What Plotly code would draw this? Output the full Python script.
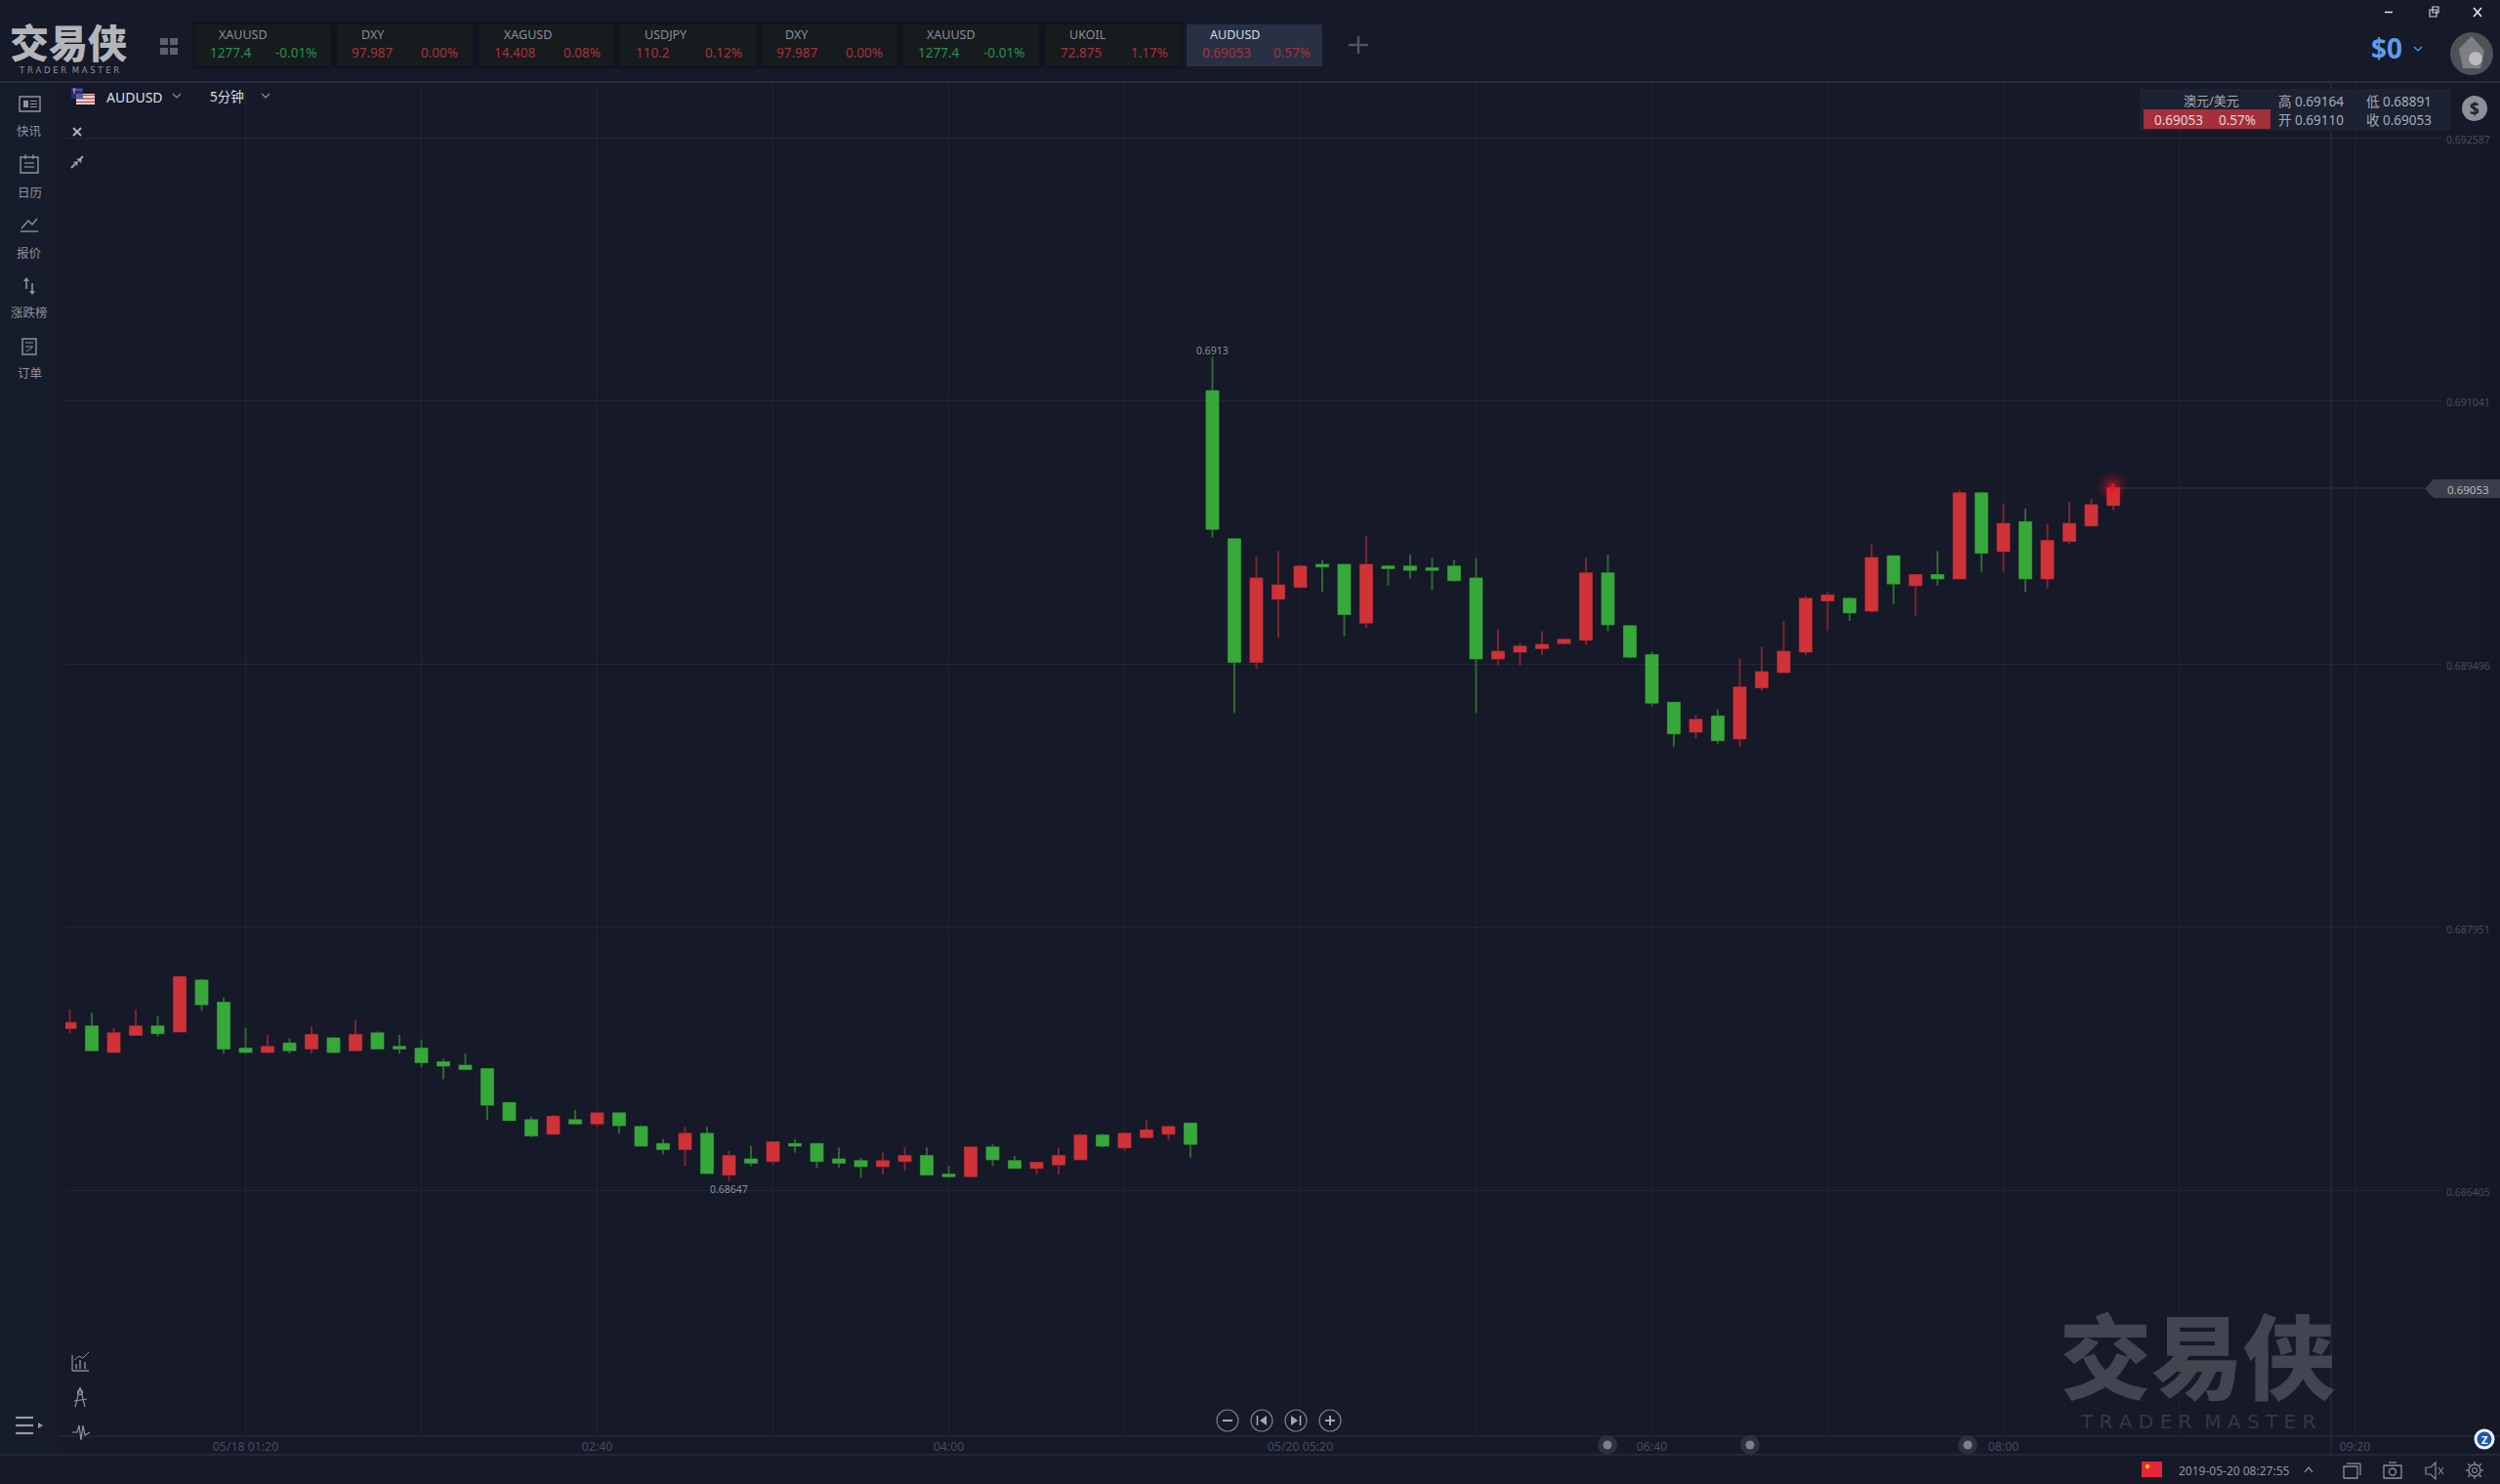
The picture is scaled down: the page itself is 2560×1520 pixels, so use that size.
import plotly.graph_objects as go

# ---------- data: AUDUSD 5-minute candles, in units of 0.00001 ----------
opens_pts = [68736,68737,68722,68732,68737,68734,68764,68751,68724,68722,68727,68724,68730,68723,68733,68725,
             68724,68716,68714,68712,68692,68682,68674,68682,68680,68686,68678,68668,68665,68674,68650,68659,
             68658,68668,68668,68659,68658,68655,68658,68661,68650,68649,68666,68658,68654,68656,68659,68673,
             68666,68672,68674,68680,69110,69023,68951,68988,68995,69008,69008,68974,69007,69007,69006,69007,
             69000,68953,68957,68959,68962,68964,69003,68972,68955,68927,68910,68919,68906,68936,68945,68957,
             68987,68988,68981,69013,68996,69002,69000,69050,69016,69033,69000,69022,69031,69043]
closes_pts = [68739,68723,68733,68737,68733,68766,68750,68724,68722,68725,68723,68732,68722,68732,68724,68724,
              68716,68714,68712,68691,68682,68673,68684,68680,68686,68679,68667,68665,68674,68651,68661,68657,
              68669,68667,68658,68657,68655,68658,68661,68650,68649,68666,68659,68654,68657,68661,68673,68667,
              68674,68676,68678,68668,69029,68951,69000,68996,69007,69007,68979,69008,69006,69005,69005,68999,
              68953,68957,68960,68961,68964,69003,68973,68954,68927,68909,68917,68905,68936,68945,68957,68988,
              68990,68980,69012,68997,69002,69000,69050,69015,69032,69000,69022,69032,69043,69053]
highs_pts = [68747,68745,68736,68747,68743,68766,68765,68754,68736,68732,68730,68737,68731,68741,68734,68732,
             68729,68718,68721,68712,68692,68684,68685,68688,68687,68686,68679,68671,68678,68678,68664,68667,
             68669,68671,68668,68666,68660,68663,68666,68666,68655,68666,68668,68661,68657,68666,68674,68674,
             68675,68682,68678,68680,69130,69023,69013,69016,69008,69011,69008,69025,69008,69014,69012,69011,
             69012,68970,68962,68969,68964,69012,69014,68972,68957,68927,68920,68923,68953,68960,68975,68990,
             68992,68989,69020,69013,69002,69016,69052,69051,69044,69041,69032,69045,69047,69056]
lows_pts = [68733,68723,68722,68732,68731,68734,68746,68721,68721,68721,68721,68721,68721,68723,68724,68721,
            68713,68706,68712,68682,68682,68672,68674,68680,68678,68674,68667,68662,68655,68650,68646,68655,
            68656,68663,68654,68654,68648,68650,68652,68650,68648,68648,68655,68654,68650,68650,68659,68666,
            68664,68672,68670,68660,69024,68921,68947,68965,68995,68992,68966,68971,68996,69000,68993,68998,
            68921,68949,68949,68955,68961,68961,68969,68953,68925,68901,68906,68903,68901,68934,68945,68955,
            68969,68975,68980,68985,68978,68996,69000,69004,69004,68992,68994,69020,69031,69040]

price_ticks = [0.692587, 0.691041, 0.689496, 0.687951, 0.686405]
price_labels = ["0.692587", "0.691041", "0.689496", "0.687951", "0.686405"]
time_tick_bars = [8, 16, 24, 32, 40, 48, 56, 64, 72, 80, 88, 96, 104]
time_tick_labels = ["05/18 01:20", "", "02:40", "", "04:00", "", "05/20 05:20", "", "06:40", "", "08:00", "", "09:20"]

watchlist_names = ["XAUUSD", "DXY", "XAGUSD", "USDJPY", "DXY", "XAUUSD", "UKOIL", "AUDUSD"]
watchlist_prices = ["1277.4", "97.987", "14.408", "110.2", "97.987", "1277.4", "72.875", "0.69053"]
watchlist_changes = ["-0.01%", "0.00%", "0.08%", "0.12%", "0.00%", "-0.01%", "1.17%", "0.57%"]

HIGH_BAR, HIGH_LABEL = 52, "0.6913"
LOW_BAR, LOW_LABEL = 30, "0.68647"
LAST_PRICE = "0.69053"

# ---------- styles / layout constants ----------
W, H = 2560, 1520
BG = "#151928"
GRID = "#212635"
VGRID = "#1e2331"
UP_FILL, UP_LINE = "#cf3237", "#7c2530"
DN_FILL, DN_LINE = "#37a93b", "#2a6a30"
CN = "Noto Sans, Noto Sans CJK SC"
PLOT_L, PLOT_R, PLOT_T, PLOT_B = 67, 2500, 85, 1471
BAR0_X, BAR_DX = 71.5, 22.5
PX_PER_PRICE = 174490.0

scale = 1e-5
opens = [round(v * scale, 5) for v in opens_pts]
closes = [round(v * scale, 5) for v in closes_pts]
highs = [round(v * scale, 5) for v in highs_pts]
lows = [round(v * scale, 5) for v in lows_pts]
bars = list(range(len(opens)))
body_tops = [max(a, b) for a, b in zip(opens, closes)]
body_bots = [min(a, b) for a, b in zip(opens, closes)]

px = lambda x: x / W
py = lambda y: 1 - y / H

shapes, notes = [], []


def line(x0, y0, x1, y1, color, w=1.0, layer="above"):
    shapes.append(dict(type="line", xref="paper", yref="paper", x0=px(x0), y0=py(y0), x1=px(x1), y1=py(y1),
                       line=dict(color=color, width=w), layer=layer))


def rect(x0, y0, x1, y1, fill=None, border=None, w=1.0, layer="above"):
    shapes.append(dict(type="rect", xref="paper", yref="paper", x0=px(x0), y0=py(y0), x1=px(x1), y1=py(y1),
                       fillcolor=fill if fill else "rgba(0,0,0,0)",
                       line=dict(color=border if border else "rgba(0,0,0,0)", width=w if border else 0), layer=layer))


def circle(cx, cy, r, fill=None, border=None, w=1.0, opacity=1.0, layer="above"):
    shapes.append(dict(type="circle", xref="paper", yref="paper", x0=px(cx - r), y0=py(cy - r), x1=px(cx + r), y1=py(cy + r),
                       fillcolor=fill if fill else "rgba(0,0,0,0)", opacity=opacity,
                       line=dict(color=border if border else "rgba(0,0,0,0)", width=w if border else 0), layer=layer))


def poly(points, fill=None, border=None, w=1.0, closed=True):
    d = "M" + " L".join(f"{px(x):.6f},{py(y):.6f}" for x, y in points) + (" Z" if closed else "")
    shapes.append(dict(type="path", xref="paper", yref="paper", path=d,
                       fillcolor=fill if fill else "rgba(0,0,0,0)",
                       line=dict(color=border if border else "rgba(0,0,0,0)", width=w if border else 0), layer="above"))


def text(x, y, s, size=13, color="#9a9ea8", anchor="center", bold=False, family=CN, weight=None):
    if bold:
        s = f"<b>{s}</b>"
    f = dict(size=size, color=color, family=family)
    if weight:
        f["weight"] = weight
    notes.append(dict(xref="paper", yref="paper", x=px(x), y=py(y), text=s, showarrow=False, xanchor=anchor, yanchor="middle",
                      font=f, borderpad=0, borderwidth=0))


def chevron(x, y, color="#8d919b", s=4):
    poly([(x - s, y - s / 2), (x, y + s / 2), (x + s, y - s / 2)], border=color, w=1.2, closed=False)


# ---------- frame ----------
rect(0, 85, 60, 1490, fill="#171c2b", layer="below")
rect(2540, 85, 2560, 1490, fill="#141826", layer="below")
line(0, 84, W, 84, "#2b3247", 1.5, layer="below")
line(0, 1490, W, 1490, "#272d3e", 1.5, layer="below")
line(60, 1471, 2560, 1471, "#232838", 1.5, layer="below")

# ---------- logo ----------
LOGO_FONT = "Liberation Sans, Noto Sans CJK SC"
text(70, 45, "交易侠", 40, "#b4b5b8", family=LOGO_FONT, weight=900)
text(70, 71.5, "T R A D E R  M A S T E R", 8.5, "#8e9097", family="DejaVu Sans")
for gx, gy in [(164, 39), (174, 39), (164, 49), (174, 49)]:
    rect(gx, gy, gx + 8, gy + 7, fill="#5b606c")

# ---------- watchlist ----------
tab_x = [200, 345, 490, 635, 780, 925, 1070, 1215]
name_x = [249, 382, 540, 682, 816, 974, 1114, 1264]
price_x = [236, 381, 527, 668, 816, 961, 1107, 1256]
chg_x = [303, 450, 596, 741, 885, 1028, 1177, 1323]
for i in range(8):
    active = i == 7
    if not active:
        rect(tab_x[i] - 3, 22, tab_x[i] + 142, 70, fill="#11141f")
    rect(tab_x[i], 25, tab_x[i] + 139, 68, fill="#283044" if active else "#161b1e")
    text(name_x[i], 35.5, watchlist_names[i], 12.5, "#d8dbe2" if active else "#8b8f98")
    pos = watchlist_changes[i].startswith("-")
    col = "#23914a" if pos else "#ac2f39"
    text(price_x[i], 54, watchlist_prices[i], 13.5, col)
    text(chg_x[i], 54, watchlist_changes[i], 13.5, col)
line(1381, 46, 1401, 46, "#4f5462", 2.5)
line(1391, 37, 1391, 55, "#4f5462", 2.5)

# ---------- window + account ----------
line(2442, 12.5, 2450, 12.5, "#e8e8e8", 1.5)
rect(2488, 10, 2495, 17, border="#cfcfcf", w=1.2)
rect(2491, 7, 2497, 13, border="#cfcfcf", w=1.2)
line(2533, 8, 2541, 17, "#e8e8e8", 1.6)
line(2541, 8, 2533, 17, "#e8e8e8", 1.6)
text(2444, 49, "$0", 28, "#5d9ceb", bold=True, family="Noto Sans")
chevron(2476, 50, "#5d9ceb")
circle(2531, 55, 22, fill="#4f5156")
poly([(2518, 50), (2531, 37), (2544, 52), (2540, 70), (2522, 70)], fill="#7d7f83")
circle(2535, 60, 7, fill="#b9babc")

# ---------- symbol selector ----------
rect(73, 90, 85, 101, fill="#1c2f85")
line(74, 92, 84, 92, "#c04a52", 1.5)
line(76, 90, 76, 96, "#b9bcd0", 1)
rect(78, 96, 97, 107, fill="#e8e4e4")
for fy in (97.5, 101, 104.5):
    line(78, fy, 97, fy, "#cf3a44", 1.4)
rect(78, 96, 85, 101, fill="#55618f")
text(109, 99, "AUDUSD", 14, "#dde0e6", anchor="left")
chevron(181, 98)
text(215, 99, "5分钟", 13.5, "#dde0e6", anchor="left")
chevron(272, 98)
line(75, 131, 83, 139, "#b3b6bd", 1.8)
line(83, 131, 75, 139, "#b3b6bd", 1.8)
# collapse arrows
line(73, 172, 77, 168, "#9a9da5", 2)
poly([(75, 166), (80, 165), (79, 170)], fill="#9a9da5")
line(85, 160, 81, 164, "#9a9da5", 2)
poly([(78, 163), (83, 167), (84, 162)], fill="#9a9da5")

# ---------- left rail ----------
ICON = "#8f939c"
rect(20, 99, 41, 114, border=ICON, w=1.4)
rect(24, 103, 29, 110, fill=ICON)
for ly in (103.5, 106.5, 109.5):
    line(31, ly, 38, ly, ICON, 1)
text(30, 135, "快讯", 12.5, ICON)
rect(21, 161, 39, 177, border=ICON, w=1.4)
line(26, 158, 26, 163, ICON, 1.2)
line(34, 158, 34, 163, ICON, 1.2)
for ly in (167, 171):
    line(25, ly, 35, ly, ICON, 1.2)
text(30, 197, "日历", 12.5, ICON)
poly([(22, 234), (29, 226), (33, 230), (38, 224)], border=ICON, w=1.4, closed=False)
line(21, 237, 39, 237, ICON, 1.4)
text(30, 259, "报价", 12.5, ICON)
line(27, 286, 27, 296, ICON, 1.6)
poly([(24, 288), (27, 284), (30, 288)], fill=ICON)
line(33, 290, 33, 300, ICON, 1.6)
poly([(30, 298), (33, 302), (36, 298)], fill=ICON)
text(30, 321, "涨跌榜", 12.5, ICON)
rect(23, 347, 37, 363, border=ICON, w=1.4)
for ly in (351, 355):
    line(26, ly, 34, ly, ICON, 1)
line(27, 360, 33, 356, ICON, 1)
text(30, 383, "订单", 12.5, ICON)

# bottom-left tools
line(74, 1388, 74, 1404, ICON, 1.2)
line(74, 1404, 91, 1404, ICON, 1.4)
for bx, bh in ((78, 5), (82, 9), (87, 7)):
    line(bx, 1402, bx, 1402 - bh, ICON, 1.4)
poly([(76, 1393), (81, 1389), (85, 1391), (91, 1385)], border=ICON, w=1, closed=False)
circle(82, 1426, 2.5, border=ICON, w=1.2)
poly([(82, 1421), (77, 1441)], border=ICON, w=1.2, closed=False)
poly([(82, 1421), (87, 1441)], border=ICON, w=1.2, closed=False)
line(76, 1435, 89, 1433, ICON, 1.2)
poly([(74, 1467), (79, 1467), (81, 1460), (83, 1475), (85, 1460), (87, 1470), (92, 1467)], border=ICON, w=1.2, closed=False)
for ly in (1452, 1460, 1468):
    line(16, ly, 34, ly, "#9a9da5", 2.2)
poly([(39, 1457), (44, 1460), (39, 1463)], fill="#9a9da5")

# ---------- zoom controls ----------
CTRL = "#a5a8af"
for cx in (1257, 1292, 1327, 1362):
    circle(cx, 1455, 11, border="#777b85", w=1.2)
line(1252, 1455, 1262, 1455, CTRL, 2)
line(1287.5, 1450, 1287.5, 1460, CTRL, 1.6)
poly([(1297, 1450), (1290, 1455), (1297, 1460)], fill=CTRL)
line(1331.5, 1450, 1331.5, 1460, CTRL, 1.6)
poly([(1322, 1450), (1329, 1455), (1322, 1460)], fill=CTRL)
line(1357, 1455, 1367, 1455, CTRL, 2)
line(1362, 1450, 1362, 1460, CTRL, 2)

# ---------- time-axis event markers ----------
for cx in (1646, 1792, 2015):
    circle(cx, 1480, 10, fill="#2c313e")
    circle(cx, 1480, 4.5, fill="#7d808a")

# ---------- crosshair / last price ----------
line(2387, 85, 2387, 1490, "#303646", 1, layer="below")
line(2169, 500, 2483, 500, "#2f3544", 1, layer="below")
poly([(2483, 500.5), (2492, 491), (2560, 491), (2560, 510), (2492, 510)], fill="#3a3e4b")
text(2527, 501, LAST_PRICE, 11.5, "#b4b7be")
for r, o in ((17, 0.05), (14, 0.07), (11, 0.10), (8, 0.16), (5, 0.25)):
    circle(2163, 499, r, fill="#ff1a2a", opacity=o)
poly([(2160, 503), (2163, 495), (2166, 503)], fill="#ee1522")

# ---------- info panel ----------
rect(2191, 91, 2509, 134, fill="#1c2232")
rect(2195, 112, 2325, 132, fill="#a52f3b")
text(2264, 103, "澳元/美元", 13, "#a7abb4")
text(2231, 123, "0.69053", 13.5, "#e2d6d8")
text(2291, 123, "0.57%", 13.5, "#e2d6d8")
text(2333, 104, "高 0.69164", 13.5, "#a7abb4", anchor="left")
text(2423, 104, "低 0.68891", 13.5, "#a7abb4", anchor="left")
text(2333, 123, "开 0.69110", 13.5, "#a7abb4", anchor="left")
text(2423, 123, "收 0.69053", 13.5, "#a7abb4", anchor="left")
circle(2534, 111, 13, fill="#8c8f96")
text(2534, 111, "$", 17, "#1b2030", bold=True, family="Noto Sans")

# ---------- watermark ----------
text(2250, 1393, "交易侠", 94, "#41454f", family=LOGO_FONT, weight=900)
text(2251, 1456, "T R A D E R  M A S T E R", 20, "#343843", family="DejaVu Sans")

# ---------- status bar ----------
rect(2193, 1497, 2214, 1513, fill="#e8243a")
circle(2199, 1502, 2.2, fill="#f5d000")
text(2288, 1506, "2019-05-20 08:27:55", 12, "#92969f")
poly([(2360, 1508), (2364, 1503), (2368, 1508)], border="#92969f", w=1.2, closed=False)
rect(2400, 1502, 2414, 1514, border="#8a8e97", w=1.3)
line(2403, 1499, 2417, 1499, "#8a8e97", 1.3)
line(2417, 1499, 2417, 1511, "#8a8e97", 1.3)
rect(2441, 1501, 2459, 1514, border="#8a8e97", w=1.3)
circle(2450, 1507.5, 3.5, border="#8a8e97", w=1.3)
line(2446, 1498, 2454, 1498, "#8a8e97", 1.3)
poly([(2484, 1503), (2489, 1503), (2494, 1498), (2494, 1515), (2489, 1510), (2484, 1510)], border="#8a8e97", w=1.2)
line(2497, 1503, 2502, 1510, "#8a8e97", 1.1)
line(2502, 1503, 2497, 1510, "#8a8e97", 1.1)
circle(2534, 1506, 6, border="#8a8e97", w=1.4)
circle(2534, 1506, 2.5, border="#8a8e97", w=1.1)
for dx, dy in ((0, -8), (0, 8), (-8, 0), (8, 0), (-6, -6), (6, -6), (-6, 6), (6, 6)):
    line(2534 + dx * 0.85, 1506 + dy * 0.85, 2534 + dx * 1.1, 1506 + dy * 1.1, "#8a8e97", 1.6)
circle(2544, 1474, 10.5, fill="#f2f4f8")
circle(2544, 1474, 7.5, fill="#1a58b0")
text(2544, 1474, "Z", 11, "#ffffff", bold=True, family="Noto Sans")

# ---------- data labels ----------
for bar, val, lab, shift in ((HIGH_BAR, highs[HIGH_BAR], HIGH_LABEL, 7), (LOW_BAR, lows[LOW_BAR], LOW_LABEL, -8)):
    notes.append(dict(x=bar, y=val, xref="x", yref="y", text=lab, showarrow=False, yshift=shift, xanchor="center",
                      yanchor="middle", font=dict(size=10.5, color="#8e919a", family="Noto Sans")))

# ---------- candles ----------
fig = go.Figure()
fig.add_trace(go.Candlestick(
    x=bars, open=opens, high=highs, low=lows, close=closes, whiskerwidth=0,
    increasing=dict(line=dict(color=UP_LINE, width=2), fillcolor=UP_FILL),
    decreasing=dict(line=dict(color=DN_LINE, width=2), fillcolor=DN_FILL),
    showlegend=False, name="AUDUSD"))
fig.add_trace(go.Candlestick(
    x=bars, open=opens, high=body_tops, low=body_bots, close=closes, whiskerwidth=0,
    increasing=dict(line=dict(color=UP_FILL, width=1), fillcolor=UP_FILL),
    decreasing=dict(line=dict(color=DN_FILL, width=1), fillcolor=DN_FILL),
    showlegend=False, name="body", hoverinfo="skip"))

x_lo = (PLOT_L - BAR0_X) / BAR_DX
x_hi = (PLOT_R - BAR0_X) / BAR_DX
y_hi = price_ticks[0] + (141 - PLOT_T) / PX_PER_PRICE
y_lo = price_ticks[0] - (PLOT_B - 141) / PX_PER_PRICE

fig.update_layout(
    width=W, height=H, margin=dict(l=0, r=0, t=0, b=0), autosize=False,
    paper_bgcolor=BG, plot_bgcolor="rgba(0,0,0,0)", showlegend=False,
    boxgap=0.46, boxgroupgap=0, boxmode="overlay",
    shapes=shapes, annotations=notes, hovermode=False,
    font=dict(family="Noto Sans", color="#474c5b", size=10.5),
    xaxis=dict(domain=[PLOT_L / W, PLOT_R / W], range=[x_lo, x_hi], rangeslider=dict(visible=False), type="linear",
               tickmode="array", tickvals=time_tick_bars, ticktext=time_tick_labels, ticks="", showgrid=True, gridcolor=VGRID,
               gridwidth=1, zeroline=False, showline=False, anchor="y", tickfont=dict(size=12.3, color="#474c5b"),
               ticklabelstandoff=2, fixedrange=True),
    yaxis=dict(domain=[1 - PLOT_B / H, 1 - PLOT_T / H], range=[y_lo, y_hi], side="right", tickmode="array", tickvals=price_ticks,
               ticktext=price_labels, ticks="", showgrid=True, gridcolor=GRID, gridwidth=1, zeroline=False, showline=False, anchor="x",
               tickfont=dict(size=10.5, color="#474c5b"), ticklabelstandoff=4, ticklabelshift=2, fixedrange=True),
)

fig.write_html("out.html", config={"displayModeBar": False},
               post_script="document.body.style.margin='0';document.body.style.background='%s';" % BG)
